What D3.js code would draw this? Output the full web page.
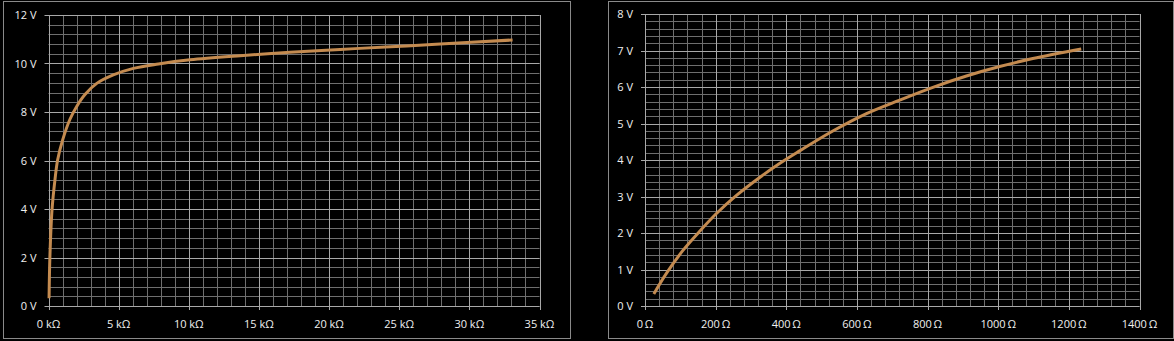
<!DOCTYPE html>
<html>
<head>
<meta charset="utf-8">
<script src="https://cdn.jsdelivr.net/npm/d3@7"></script>
<style>
  body { margin: 0; background: #000; }
  svg { display: block; }
  text { font-family: "Open Sans", sans-serif; font-size: 11px; fill: #f0f0f0; }
</style>
</head>
<body>
<div id="chart"></div>
<script>
// left chart: voltage vs resistance (kOhm)
const leftR = [0.04, 0.1, 0.25, 0.46, 0.65, 1.01, 1.53, 2.0, 2.6, 3.44, 4.62, 6.05, 7.83, 10.09, 13.66, 17.22, 20.79, 24.36, 27.92, 33.08];
const leftV = [0.32, 2.03, 3.96, 5.2, 6.02, 6.85, 7.7, 8.22, 8.72, 9.18, 9.53, 9.8, 9.98, 10.15, 10.32, 10.46, 10.58, 10.69, 10.8, 10.97];
const leftXTicks = [0, 5, 10, 15, 20, 25, 30, 35];
const leftYTicks = [0, 2, 4, 6, 8, 10, 12];

// right chart: voltage vs resistance (Ohm)
const rightR = [25, 61, 108, 156, 203, 259, 316, 382, 438, 533, 627, 721, 815, 910, 1004, 1098, 1235];
const rightV = [0.33, 0.9, 1.53, 2.06, 2.54, 3.03, 3.46, 3.91, 4.25, 4.8, 5.27, 5.64, 5.99, 6.3, 6.56, 6.78, 7.04];
const rightXTicks = [0, 200, 400, 600, 800, 1000, 1200, 1400];
const rightYTicks = [0, 1, 2, 3, 4, 5, 6, 7, 8];

const svg = d3.select("#chart").append("svg")
    .attr("width", 1174)
    .attr("height", 341);

svg.append("rect").attr("width", 1174).attr("height", 341).attr("fill", "#000");

function drawChart(opt) {
  // panel border
  svg.append("rect")
    .attr("x", opt.box[0] + 0.5).attr("y", opt.box[1] + 0.5)
    .attr("width", opt.box[2]).attr("height", opt.box[3])
    .attr("fill", "none").attr("stroke", "#8a8a8a");

  const x = d3.scaleLinear().domain(opt.xDomain).range(opt.xRange);
  const y = d3.scaleLinear().domain(opt.yDomain).range(opt.yRange);

  const g = svg.append("g");

  // minor grid
  g.selectAll(".vmin").data(d3.range(opt.xDomain[0], opt.xDomain[1] + 1e-9, opt.xMinor))
    .enter().append("line")
    .attr("x1", d => Math.round(x(d)) + 0.5).attr("x2", d => Math.round(x(d)) + 0.5)
    .attr("y1", opt.yRange[0]).attr("y2", opt.yRange[1])
    .attr("stroke", "#6e6e6e");
  g.selectAll(".hmin").data(d3.range(opt.yDomain[0], opt.yDomain[1] + 1e-9, opt.yMinor))
    .enter().append("line")
    .attr("y1", d => Math.round(y(d)) + 0.5).attr("y2", d => Math.round(y(d)) + 0.5)
    .attr("x1", opt.xRange[0]).attr("x2", opt.xRange[1])
    .attr("stroke", "#6e6e6e");

  // major grid
  g.selectAll(".vmaj").data(opt.xTicks)
    .enter().append("line")
    .attr("x1", d => Math.round(x(d)) + 0.5).attr("x2", d => Math.round(x(d)) + 0.5)
    .attr("y1", opt.yRange[0] + 4).attr("y2", opt.yRange[1])
    .attr("stroke", "#a8a8a8");
  g.selectAll(".hmaj").data(opt.yTicks)
    .enter().append("line")
    .attr("y1", d => Math.round(y(d)) + 0.5).attr("y2", d => Math.round(y(d)) + 0.5)
    .attr("x1", opt.xRange[0] - 4).attr("x2", opt.xRange[1])
    .attr("stroke", "#a8a8a8");

  // tick labels
  g.selectAll(".xl").data(opt.xTicks)
    .enter().append("text")
    .attr("x", d => x(d)).attr("y", 328)
    .attr("text-anchor", "middle")
    .text(opt.xFmt);
  g.selectAll(".yl").data(opt.yTicks)
    .enter().append("text")
    .attr("x", opt.xRange[0] - 12).attr("y", d => y(d) + 4)
    .attr("text-anchor", "end")
    .text(d => d + " V");

  // curve
  const pts = opt.xs.map((v, i) => [v, opt.ys[i]]);
  g.append("path")
    .datum(pts)
    .attr("fill", "none")
    .attr("stroke", "#c48b50")
    .attr("stroke-width", 3)
    .attr("d", d3.line().x(d => x(d[0])).y(d => y(d[1])).curve(d3.curveCatmullRom.alpha(0.5)));
}

drawChart({
  box: [3, 1, 567, 337],
  xDomain: [0, 35], xRange: [48.5, 539.5], xMinor: 1, xTicks: leftXTicks,
  yDomain: [0, 12], yRange: [306, 15], yMinor: 0.4, yTicks: leftYTicks,
  xFmt: d => d + " kΩ",
  xs: leftR, ys: leftV
});

drawChart({
  box: [608, 1, 565, 337],
  xDomain: [0, 1400], xRange: [645, 1139.5], xMinor: 40, xTicks: rightXTicks,
  yDomain: [0, 8], yRange: [306, 14], yMinor: 0.2, yTicks: rightYTicks,
  xFmt: d => d + "\u2009Ω",
  xs: rightR, ys: rightV
});
</script>
</body>
</html>
